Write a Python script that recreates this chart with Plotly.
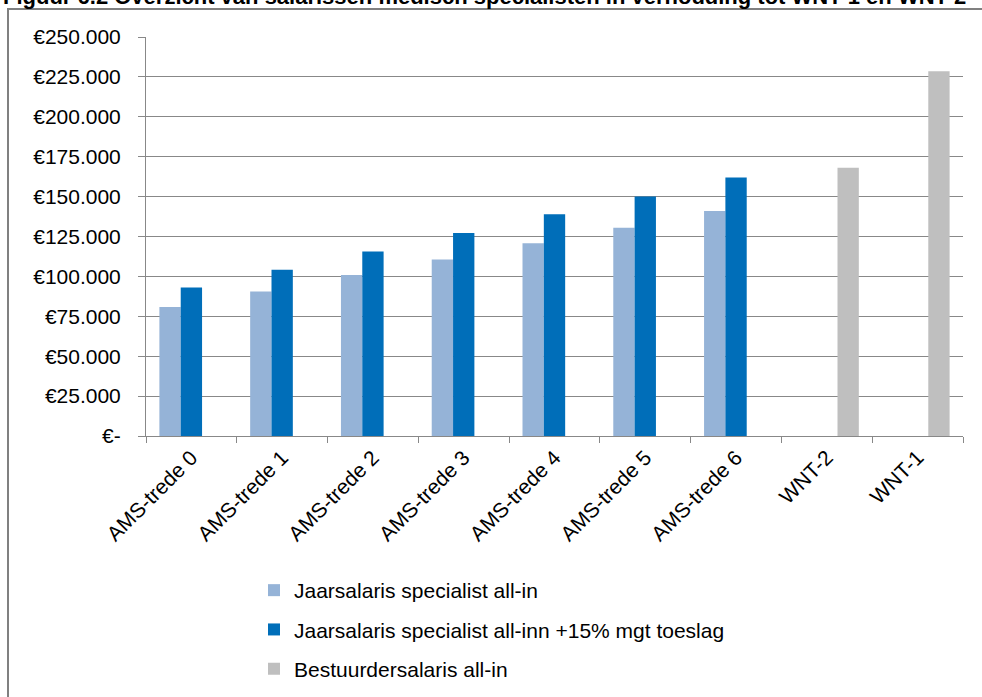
import plotly.graph_objects as go

categories = ["AMS-trede 0", "AMS-trede 1", "AMS-trede 2", "AMS-trede 3", "AMS-trede 4",
              "AMS-trede 5", "AMS-trede 6", "WNT-2", "WNT-1"]
specialist_allin = [80900, 90500, 100900, 110600, 120800, 130500, 140900, None, None]
specialist_toeslag = [93000, 104100, 115600, 127200, 138900, 150000, 162000, None, None]
bestuurder_allin = [None, None, None, None, None, None, None, 168000, 228600]

series_names = ["Jaarsalaris specialist all-in",
                "Jaarsalaris specialist all-inn +15% mgt toeslag",
                "Bestuurdersalaris all-in"]
colors = ["#95B3D7", "#006EB9", "#BFBFBF"]

y_tickvals = [0, 25000, 50000, 75000, 100000, 125000, 150000, 175000, 200000, 225000, 250000]
y_ticktext = ["€-", "€25.000", "€50.000", "€75.000", "€100.000", "€125.000", "€150.000",
              "€175.000", "€200.000", "€225.000", "€250.000"]

title_text = "Figuur 6.2 Overzicht van salarissen medisch specialisten in verhouding tot WNT-1 en WNT-2"

FONT = "Liberation Sans, Arial, sans-serif"

fig = go.Figure()
for i, (name, vals) in enumerate(zip(series_names, [specialist_allin, specialist_toeslag, bestuurder_allin])):
    fig.add_trace(go.Bar(x=categories, y=vals, name=name, marker_color=colors[i],
                         marker_line_width=0, legendgroup=f"g{i}"))

L, R, T, B = 146, 19, 37, 261
W, H = 982, 697
pw, ph = W - L - R, H - T - B

def px_x(x):
    return (x - L) / pw

def px_y(y):
    return (H - B - y) / ph

fig.update_layout(
    width=W, height=H, autosize=False,
    margin=dict(l=L, r=R, t=T, b=B, pad=0, autoexpand=False),
    paper_bgcolor="white", plot_bgcolor="white",
    barmode="group", bargap=0.295, bargroupgap=0,
    font=dict(family=FONT, size=21, color="#000000"),
    showlegend=True,
    legend=dict(xref="container", yref="container", x=254 / W, y=1 - 570 / H,
                xanchor="left", yanchor="top",
                orientation="v", tracegroupgap=9, font=dict(size=21),
                itemwidth=30, bgcolor="rgba(0,0,0,0)"),
    xaxis=dict(type="category", showgrid=False, showline=True, linecolor="#888888",
               linewidth=1, ticks="outside", tickson="boundaries", ticklen=6,
               tickcolor="#888888", tickangle=-45, tickfont=dict(size=21),
               automargin=False),
    yaxis=dict(range=[0, 250000], tickvals=y_tickvals, ticktext=y_ticktext,
               showgrid=True, gridcolor="#888888", gridwidth=1, showline=True,
               linecolor="#888888", linewidth=1, ticks="outside", ticklen=7,
               tickcolor="#888888", zeroline=False, ticklabelstandoff=13,
               tickfont=dict(size=21), automargin=False),
    shapes=[dict(type="rect", xref="paper", yref="paper",
                 x0=px_x(8), x1=px_x(1000), y0=px_y(720), y1=px_y(9),
                 line=dict(color="#808080", width=2), fillcolor="rgba(0,0,0,0)", layer="below")],
    annotations=[dict(text=f"<b>{title_text}</b>", xref="paper", yref="paper",
                      x=px_x(1), y=px_y(-3.4), xanchor="left", yanchor="middle",
                      showarrow=False, font=dict(size=22, color="#000000", family=FONT))],
)

fig.write_html("out.html")
